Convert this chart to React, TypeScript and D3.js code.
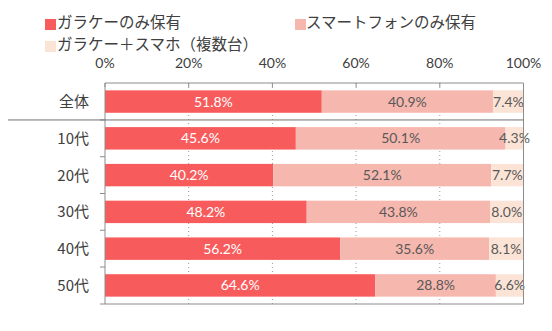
import React from "react";
import * as d3 from "d3";

const categories = ["全体", "10代", "20代", "30代", "40代", "50代"];
const seriesNames = ["ガラケーのみ保有", "スマートフォンのみ保有", "ガラケー＋スマホ（複数台）"];
const garakeOnly = [51.8, 45.6, 40.2, 48.2, 56.2, 64.6];
const smartOnly = [40.9, 50.1, 52.1, 43.8, 35.6, 28.8];
const both = [7.4, 4.3, 7.7, 8.0, 8.1, 6.6];
const xTicks = [0, 20, 40, 60, 80, 100];
const colors = ["#F85B5B", "#F6B7AE", "#FBE3D6"];
const labelColors = ["#FFFFFF", "#595959", "#595959"];

const W = 552;
const H = 331;
const left = 105;
const right = 523.5;
const top = 83;
const bottom = 304;

const NUM = "Lato, 'Noto Sans CJK JP', sans-serif";
const JP = "'Noto Sans CJK JP', sans-serif";

export default function App() {
  const x = d3.scaleLinear().domain([0, 100]).range([left, right]);
  const y = d3.scaleBand<string>().domain(categories).range([top, bottom]).paddingInner(0.39).paddingOuter(0.2);
  const series = [garakeOnly, smartOnly, both];
  const rows = categories.map((c, i) => {
    let acc = 0;
    return series.map((s, k) => {
      const x0 = acc;
      acc += s[i];
      return { cat: c, k, x0, x1: acc, v: s[i] };
    });
  });
  const step = y.step();
  const gray = "#8C8C8C";
  return (
    <svg width={W} height={H} style={{ position: "absolute", left: 0, top: 0, background: "#fff" }}>
      {/* legend */}
      <g fontFamily={JP} fontSize={15.5} fill="#404040">
        <rect x={45} y={19} width={11} height={11} fill={colors[0]} />
        <text x={57} y={28}>{seriesNames[0]}</text>
        <rect x={295} y={19} width={11} height={11} fill={colors[1]} />
        <text x={306} y={28}>{seriesNames[1]}</text>
        <rect x={45} y={41} width={11} height={11} fill={colors[2]} />
        <text x={57} y={50}>{seriesNames[2]}</text>
      </g>
      {/* gridlines */}
      {xTicks.slice(1, -1).map((t) => (
        <line key={t} x1={x(t)} x2={x(t)} y1={top} y2={bottom} stroke="#9A9A9A" strokeWidth={1} strokeDasharray="1,3" />
      ))}
      {/* bars */}
      {rows.map((r) =>
        r.map((seg) => (
          <rect key={seg.cat + seg.k} x={x(seg.x0)} y={y(seg.cat)!} width={x(seg.x1) - x(seg.x0)} height={y.bandwidth()} fill={colors[seg.k]} />
        ))
      )}
      {/* value labels */}
      {rows.map((r) =>
        r.map((seg) => (
          <text
            key={"l" + seg.cat + seg.k}
            x={(x(seg.x0) + x(seg.x1)) / 2}
            y={y(seg.cat)! + y.bandwidth() / 2}
            dy="0.36em"
            textAnchor="middle"
            fontFamily={NUM}
            fontSize={14}
            fill={labelColors[seg.k]}
          >
            {seg.v.toFixed(1)}%
          </text>
        ))
      )}
      {/* axes */}
      <line x1={left} x2={right} y1={top} y2={top} stroke={gray} />
      <line x1={left - 5} x2={right} y1={bottom} y2={bottom} stroke={gray} />
      <line x1={left} x2={left} y1={top} y2={bottom} stroke={gray} />
      <line x1={right} x2={right} y1={top} y2={bottom} stroke={gray} />
      {xTicks.map((t) => (
        <g key={"t" + t}>
          <line x1={x(t)} x2={x(t)} y1={top} y2={top + 4} stroke={gray} />
          <text x={x(t)} y={68} textAnchor="middle" fontFamily={NUM} fontSize={14} fill="#404040">
            {t}%
          </text>
        </g>
      ))}
      {categories.slice(1).map((c, i) => (
        <line key={"yt" + c} x1={left - 5} x2={left} y1={y(c)! - (step - y.bandwidth()) / 2} y2={y(c)! - (step - y.bandwidth()) / 2} stroke={gray} />
      ))}
      <line x1={8} x2={right} y1={y(categories[1])! - (step - y.bandwidth()) / 2} y2={y(categories[1])! - (step - y.bandwidth()) / 2} stroke="#707070" />
      {categories.map((c) => (
        <text key={"c" + c} x={89} y={y(c)! + y.bandwidth() / 2} dy="0.36em" textAnchor="end" fontFamily={JP} fontSize={15} fill="#404040">
          {c}
        </text>
      ))}
    </svg>
  );
}
